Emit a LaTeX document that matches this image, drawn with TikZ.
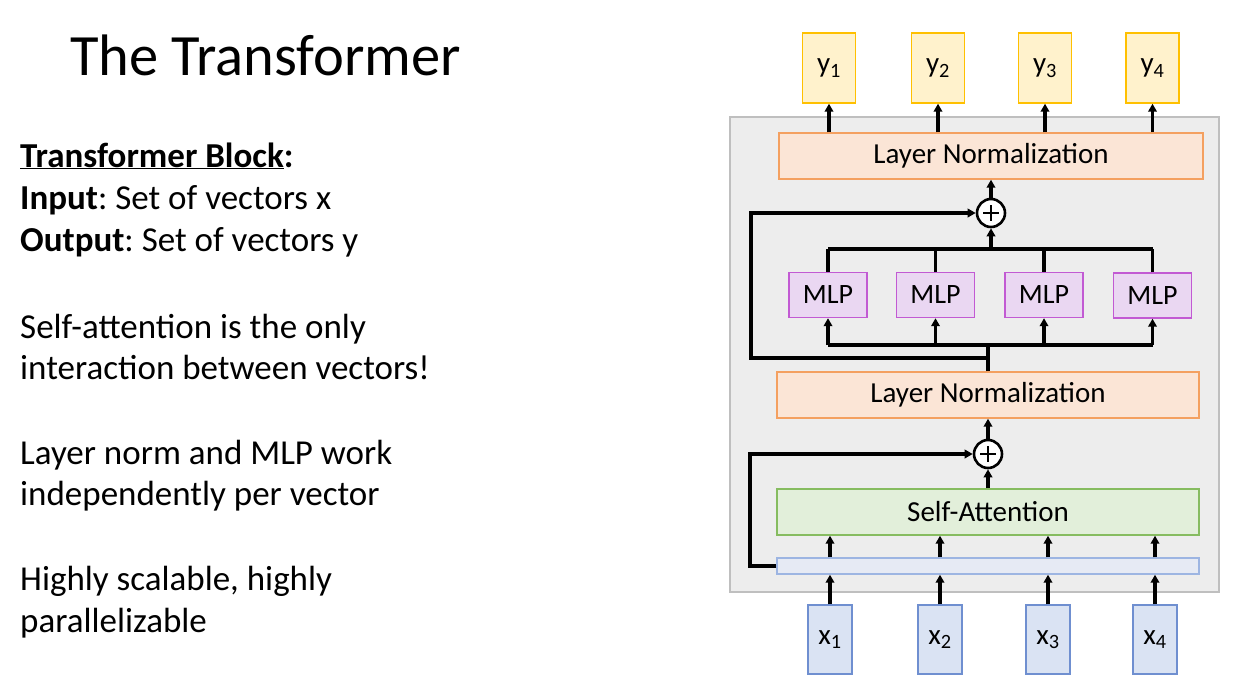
\documentclass[tikz,border=0pt]{standalone}
\usepackage{fontspec}
\setmainfont{Carlito}
\usetikzlibrary{arrows.meta}
\frenchspacing
\definecolor{grayfill}{HTML}{EDEDED}
\definecolor{grayline}{HTML}{BFBFBF}
\definecolor{lnfill}{HTML}{FBE5D6}
\definecolor{lnline}{HTML}{F4A060}
\definecolor{mlpfill}{HTML}{EAD7F2}
\definecolor{mlpline}{HTML}{C25AD3}
\definecolor{safill}{HTML}{E2EFDA}
\definecolor{saline}{HTML}{86BC60}
\definecolor{barfill}{HTML}{E6EAF4}
\definecolor{barline}{HTML}{9DB5E2}
\definecolor{xfill}{HTML}{DAE3F3}
\definecolor{xline}{HTML}{6F8FD0}
\definecolor{yfill}{HTML}{FFF2CC}
\definecolor{yline}{HTML}{FFC000}
\begin{document}
\begin{tikzpicture}[x=1pt,y=-1pt,
  bodytext/.style={anchor=base west,inner sep=0pt,font=\fontsize{35}{42}\selectfont},
  blk/.style={draw,line width=1.4pt,inner sep=0pt,font=\fontsize{29}{32}\selectfont},
  lnbox/.style={blk,fill=lnfill,draw=lnline,minimum width=424pt,minimum height=46pt},
  mlpbox/.style={blk,fill=mlpfill,draw=mlpline,minimum width=78pt,minimum height=45pt,font=\fontsize{28}{32}\selectfont},
  xbox/.style={blk,fill=xfill,draw=xline,minimum width=44pt,minimum height=69pt},
  ybox/.style={blk,fill=yfill,draw=yline,minimum width=53pt,minimum height=70pt},
  plusc/.style={circle,draw,line width=2.6pt,fill=white,minimum size=28pt,inner sep=0pt},
  conn/.style={line width=3.2pt},
  arr/.style={conn,-{Triangle[length=8pt,width=8.5pt]}},
]
\useasboundingbox (0,0) rectangle (1244,691);
% left text
\node[anchor=base west,inner sep=0pt,font=\fontsize{58.5}{60}\selectfont] (title) at (70,75) {The Transformer};
\node[bodytext] (l1) at (20,167) {\textbf{\underline{Transformer Block}:}};
\node[bodytext] (l2) at (20,209) {\textbf{Input}: Set of vectors x};
\node[bodytext] (l3) at (20,251) {\textbf{Output}: Set of vectors y};
\node[bodytext] (l4) at (20,338) {Self-attention is the only};
\node[bodytext] (l5) at (20,379) {interaction between vectors!};
\node[bodytext] (l6) at (20,464) {Layer norm and MLP work};
\node[bodytext] (l7) at (20,505) {independently per vector};
\node[bodytext] (l8) at (20,590) {Highly scalable, highly};
\node[bodytext] (l9) at (20,632) {parallelizable};
% gray block
\node[draw=grayline,fill=grayfill,line width=1.5pt,minimum width=489pt,minimum height=475pt,inner sep=0pt] (blockbg) at (974.5,354.5) {};
% boxes
\node[lnbox] (ln1) at (991,156) {Layer Normalization};
\node[lnbox,minimum width=422pt] (ln2) at (988,395) {Layer Normalization};
\node[blk,fill=safill,draw=saline,minimum width=422pt,minimum height=46pt] (sa) at (988,512) {Self-Attention};
\node[blk,fill=barfill,draw=barline,minimum width=422pt,minimum height=16pt] (bar) at (988,566) {};
\node[plusc] (p1) at (991,213) {};
\node[plusc] (p2) at (988,454) {};
\draw[line width=2.6pt] (p1.center) ++(-8,0) -- ++(16,0) (p1.center) ++(0,-8) -- ++(0,16);
\draw[line width=2.6pt] (p2.center) ++(-8,0) -- ++(16,0) (p2.center) ++(0,-8) -- ++(0,16);
\node[mlpbox] (m1) at (828,295) {MLP};
\node[mlpbox] (m2) at (935.5,295) {MLP};
\node[mlpbox] (m3) at (1044,295) {MLP};
\node[mlpbox] (m4) at (1152.5,295.5) {MLP};
\foreach \i/\xx in {1/830,2/940,3/1048,4/1155}{
  \node[xbox] (x\i) at (\xx,639.5) {x\textsubscript{\i}};
}
\foreach \i/\xx in {1/829,2/938,3/1045,4/1152.5}{
  \node[ybox] (y\i) at (\xx,68) {y\textsubscript{\i}};
}
% arrows x -> bar -> SA
\foreach \i in {1,...,4}{
  \draw[arr] (x\i.north) -- (x\i.north |- bar.south);
  \draw[arr] (x\i.north |- bar.north) -- (x\i.north |- sa.south);
}
% SA -> plus2 -> ln2
\draw[arr] (sa.north -| p2) -- (p2.south);
\draw[arr] (p2.north) -- (p2.north |- ln2.south);
\coordinate (sk2) at (750,566);
\draw[arr] (bar.west) -- (sk2) |- (p2.west);
% ln2 -> MLPs bus
\coordinate (busb) at (988,345);
\draw[conn] (ln2.north -| busb) -- (busb);
\draw[conn] (m1.south |- busb) -- (m4.south |- busb);
\foreach \i in {1,...,4}{
  \draw[arr] (m\i.south |- busb) -- (m\i.south);
}
\coordinate (sk1a) at (988,358);
\coordinate (sk1b) at (751,358);
\draw[arr] (sk1a) -- (sk1b) |- (p1.west);
% MLP tops bus
\coordinate (bust) at (991,249);
\foreach \i in {1,...,4}{
  \draw[conn] (m\i.north) -- (m\i.north |- bust);
}
\draw[conn] (m1.north |- bust) -- (m4.north |- bust);
\draw[arr] (bust) -- (p1.south);
\draw[arr] (p1.north) -- (p1.north |- ln1.south);
% ln1 -> y
\foreach \i in {1,...,4}{
  \draw[arr] (y\i.south |- ln1.north) -- (y\i.south);
}
\end{tikzpicture}
\end{document}
